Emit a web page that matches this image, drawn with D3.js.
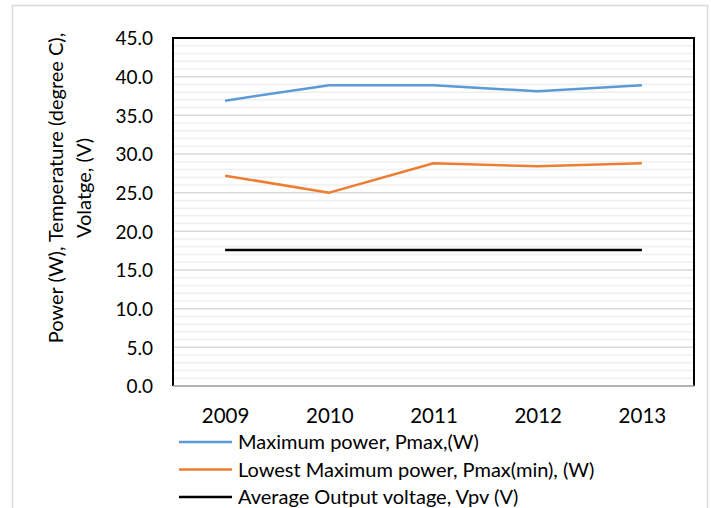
<!DOCTYPE html>
<html><head><meta charset="utf-8">
<script src="https://cdn.jsdelivr.net/npm/d3@7"></script>
<style>body{margin:0;background:#fff;} svg{display:block;} text{font-family:Lato,"Open Sans",sans-serif;fill:#000;}</style>
</head><body>
<svg id="c" width="711" height="508"></svg>
<script>
const years = ["2009","2010","2011","2012","2013"];
const pmax = [36.9, 38.9, 38.9, 38.1, 38.9];
const pmaxMin = [27.2, 25.0, 28.8, 28.4, 28.8];
const vpv = [17.6, 17.6, 17.6, 17.6, 17.6];
const yTicks = [0,5,10,15,20,25,30,35,40,45];
const seriesNames = ["Maximum power, Pmax,(W)","Lowest Maximum power, Pmax(min), (W)","Average Output voltage, Vpv (V)"];
const seriesColors = ["#5b9bd5","#ed7d31","#000000"];
const seriesData = [pmax, pmaxMin, vpv];

const svg = d3.select("#c");
const L=173, R=694, T=38, B=386;
// outer chart border
svg.append("rect").attr("x",12.5).attr("y",5.5).attr("width",695).attr("height",520).attr("fill","none").attr("stroke","#d9d9d9").attr("stroke-width",1.5);

const x = d3.scalePoint().domain(years).range([L,R]).padding(0.5);
const y = d3.scaleLinear().domain([0,45]).range([B,T]);

// minor gridlines
const minor = d3.range(0,46,1).filter(v=>v%5!==0);
svg.append("g").selectAll("line").data(minor).join("line")
  .attr("x1",L).attr("x2",R).attr("y1",d=>y(d)).attr("y2",d=>y(d))
  .attr("stroke","#efefef").attr("stroke-width",1.5);
// major gridlines
svg.append("g").selectAll("line").data(yTicks).join("line")
  .attr("x1",L).attr("x2",R).attr("y1",d=>y(d)).attr("y2",d=>y(d))
  .attr("stroke","#d9d9d9").attr("stroke-width",1.5);

// plot border
svg.append("path").attr("d",`M${L},${B}V${T}H${R}V${B}`).attr("fill","none").attr("stroke","#000").attr("stroke-width",2);
svg.append("line").attr("x1",L).attr("x2",R).attr("y1",B).attr("y2",B).attr("stroke","#a6a6a6").attr("stroke-width",1.5);

// y axis labels
const yAxis = d3.axisLeft(y).tickValues(yTicks).tickFormat(d3.format(".1f")).tickSize(0).tickPadding(20);
const ga = svg.append("g").attr("transform",`translate(${L},0)`).call(yAxis);
ga.select(".domain").remove();
ga.selectAll("text").attr("dy","0.36em").style("font-size","19px").style("font-family","Lato,sans-serif");

// x axis labels
const xAxis = d3.axisBottom(x).tickSize(0);
const gx = svg.append("g").attr("transform",`translate(0,${B})`).call(xAxis);
gx.select(".domain").remove();
gx.selectAll("text").attr("y",37).attr("dy",null).style("font-size","20.5px").style("font-family","Lato,sans-serif");

// lines
const line = d3.line().x((d,i)=>x(years[i])).y(d=>y(d));
seriesData.forEach((s,k)=>{
  svg.append("path").datum(s).attr("d",line).attr("fill","none")
    .attr("stroke",seriesColors[k]).attr("stroke-width",2.5).attr("stroke-linejoin","round");
});

// y title
const yt = svg.append("text").attr("transform",`translate(63,188) rotate(-90)`).attr("text-anchor","middle").style("font-size","20px");
yt.append("tspan").attr("x",0).attr("dy",0).text("Power (W), Temperature (degree C),");
yt.append("tspan").attr("x",0).attr("dy",28).text("Volatge, (V)");

// legend
const lg = svg.append("g");
seriesNames.forEach((n,k)=>{
  const yy = 442 + k*27.5;
  lg.append("line").attr("x1",179).attr("x2",232).attr("y1",yy).attr("y2",yy).attr("stroke",seriesColors[k]).attr("stroke-width",2.5);
  lg.append("text").attr("x",238).attr("y",yy).attr("dy","0.35em").style("font-size","20px").text(n);
});
</script>
</body></html>
